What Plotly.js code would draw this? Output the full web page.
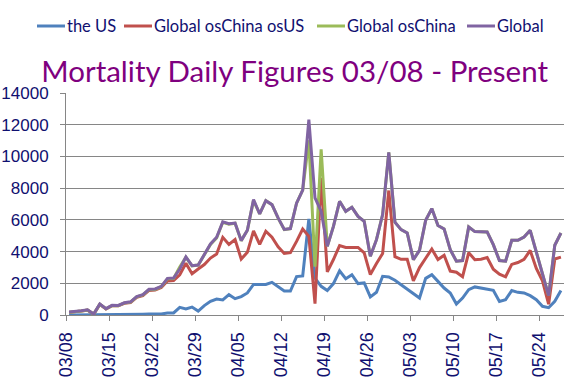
<!DOCTYPE html>
<html>
<head>
<meta charset="utf-8">
<script src="https://cdn.plot.ly/plotly-3.0.1.min.js"></script>
<style>
html,body{margin:0;padding:0;background:#fff;}
#chart{width:580px;height:389px;}
</style>
</head>
<body>
<div id="chart"></div>
<script>
// Categories: daily dates from 03/08 (81 days)
var startDate = new Date(2020, 2, 8);
var dayCount = 81;
var dateLabels = [];
for (var d = 0; d < dayCount; d++) {
  var dt = new Date(startDate.getFullYear(), startDate.getMonth(), startDate.getDate() + d);
  var mm = String(dt.getMonth() + 1).padStart(2, '0');
  var dd = String(dt.getDate()).padStart(2, '0');
  dateLabels.push(mm + '/' + dd);
}

var theUS = [5,5,10,5,10,10,10,10,10,20,20,30,50,60,40,60,130,130,480,380,
  500,250,590,860,1010,950,1280,1030,1160,1390,1930,1930,1930,2060,1810,1510,1510,2420,2460,6060,
  2330,1810,1540,1980,2780,2290,2540,1980,2020,1140,1430,2440,2400,2190,1910,1640,1350,1070,2310,2540,
  2120,1700,1390,690,1070,1600,1770,1700,1600,1560,860,970,1540,1430,1390,1220,970,550,460,860,1540];

var globalOsChinaOsUS = [165,185,250,305,45,670,380,585,580,740,790,1110,1220,1550,1570,1730,2150,2170,2540,3260,
  2600,2900,3180,3590,3850,4900,4450,4760,3530,3950,5300,4450,5280,4900,4300,3880,3930,4640,5420,4960,
  720,8650,2720,3500,4380,4260,4260,4260,3920,2550,3250,3880,7850,3680,3510,3510,2150,2990,3580,4160,
  3500,3770,2770,2700,2420,3930,3490,3520,3620,2890,2580,2410,3190,3310,3510,4070,2930,2160,680,3530,3650];

var globalOsChina = [170,190,255,310,55,680,390,595,590,760,810,1140,1270,1600,1610,1790,2280,2300,3020,3640,
  3100,3150,3770,4450,4860,5850,5730,5790,4690,5340,7230,6370,7210,6960,6110,5390,5440,7050,7880,11020,
  3050,10450,4330,5590,7170,6540,6790,6220,5910,3700,4750,6330,10260,5850,5380,5170,3490,4080,5970,6710,
  5640,5430,4120,3390,3430,5550,5260,5260,5240,4440,3430,3390,4710,4710,4920,5340,3910,2650,1220,4400,5170];

var globalAll = [190,210,270,330,60,690,400,610,600,770,830,1160,1280,1620,1640,1810,2310,2330,2900,3660,
  3110,3150,3810,4480,4900,5870,5760,5800,4690,5340,7280,6370,7210,6960,6120,5400,5450,7050,7880,12320,
  7380,6540,4330,5590,7170,6540,6790,6220,5910,3700,4750,6330,10260,5850,5380,5170,3490,4080,5970,6710,
  5640,5430,4120,3390,3430,5550,5260,5260,5240,4440,3430,3390,4710,4710,4920,5340,3910,2650,1220,4400,5170];

var seriesNames = ['the US', 'Global osChina osUS', 'Global osChina', 'Global'];
var seriesColors = ['#4F81BD', '#C0504D', '#9BBB59', '#8064A2'];
var seriesData = [theUS, globalOsChinaOsUS, globalOsChina, globalAll];

var yTickValues = [0,2000,4000,6000,8000,10000,12000,14000];
var yTickText = ['0','2000','4000','6000','8000','10000','12000','14000'];

var xIdx = dateLabels.map(function(_, i){ return i; });
var tickIdx = [], tickText = [];
for (var k = 0; k < dayCount; k += 7) { tickIdx.push(k - 0.5); tickText.push(dateLabels[k]); }

var traces = seriesData.map(function(vals, s){
  return {
    x: xIdx, y: vals, type: 'scatter', mode: 'lines',
    name: seriesNames[s],
    line: {color: seriesColors[s], width: 3},
    hoverinfo: 'skip'
  };
});

var navy = '#101070';
var W = 580, H = 389;
var M = {l: 66, r: 16, t: 93, b: 74};
var plotW = W - M.l - M.r, plotH = H - M.t - M.b;
function px2paperX(px){ return (px - M.l) / plotW; }
function px2paperY(py){ return 1 - (py - M.t) / plotH; }

// manual one-row legend (sample line start pixel for each entry)
var legendStarts = [37, 124, 317, 467];
var legendY = 26;
var shapes = [], annotations = [];
legendStarts.forEach(function(x0, s){
  shapes.push({
    type: 'line', xref: 'paper', yref: 'paper',
    x0: px2paperX(x0), x1: px2paperX(x0 + 28),
    y0: px2paperY(legendY), y1: px2paperY(legendY),
    line: {color: seriesColors[s], width: 3}
  });
  annotations.push({
    xref: 'paper', yref: 'paper',
    x: px2paperX(x0 + 29), y: px2paperY(legendY),
    xanchor: 'left', yanchor: 'middle',
    text: seriesNames[s], showarrow: false,
    borderpad: 0,
    font: {family: 'Lato', size: 16.5, color: navy}
  });
});

var layout = {
  width: W, height: H,
  margin: M,
  paper_bgcolor: '#ffffff', plot_bgcolor: '#ffffff',
  showlegend: false,
  shapes: shapes,
  annotations: annotations,
  title: {
    text: 'Mortality Daily Figures 03/08 - Present',
    font: {family: 'Lato', size: 29.5, color: '#7F007F'},
    x: 0.508, xref: 'container', xanchor: 'center',
    y: 0.817, yref: 'container', yanchor: 'middle'
  },
  xaxis: {
    range: [-0.5, dayCount - 0.5],
    tickmode: 'array', tickvals: tickIdx, ticktext: tickText,
    tickangle: -90,
    ticks: 'outside', ticklen: 5, tickcolor: '#868686',
    ticklabelstandoff: 4,
    showgrid: false, zeroline: false,
    showline: true, linecolor: '#868686', linewidth: 1,
    tickfont: {family: 'Liberation Sans, Arial', size: 18, color: navy},
    fixedrange: true
  },
  yaxis: {
    range: [0, 14000],
    tickmode: 'array', tickvals: yTickValues, ticktext: yTickText,
    ticks: 'outside', ticklen: 5, tickcolor: '#868686',
    ticklabelstandoff: 8,
    showgrid: true, gridcolor: '#868686', gridwidth: 1,
    zeroline: false,
    showline: true, linecolor: '#868686', linewidth: 1,
    tickfont: {family: 'Liberation Sans, Arial', size: 17, color: navy},
    fixedrange: true
  }
};

Plotly.newPlot('chart', traces, layout, {displayModeBar: false, staticPlot: true});
</script>
</body>
</html>
